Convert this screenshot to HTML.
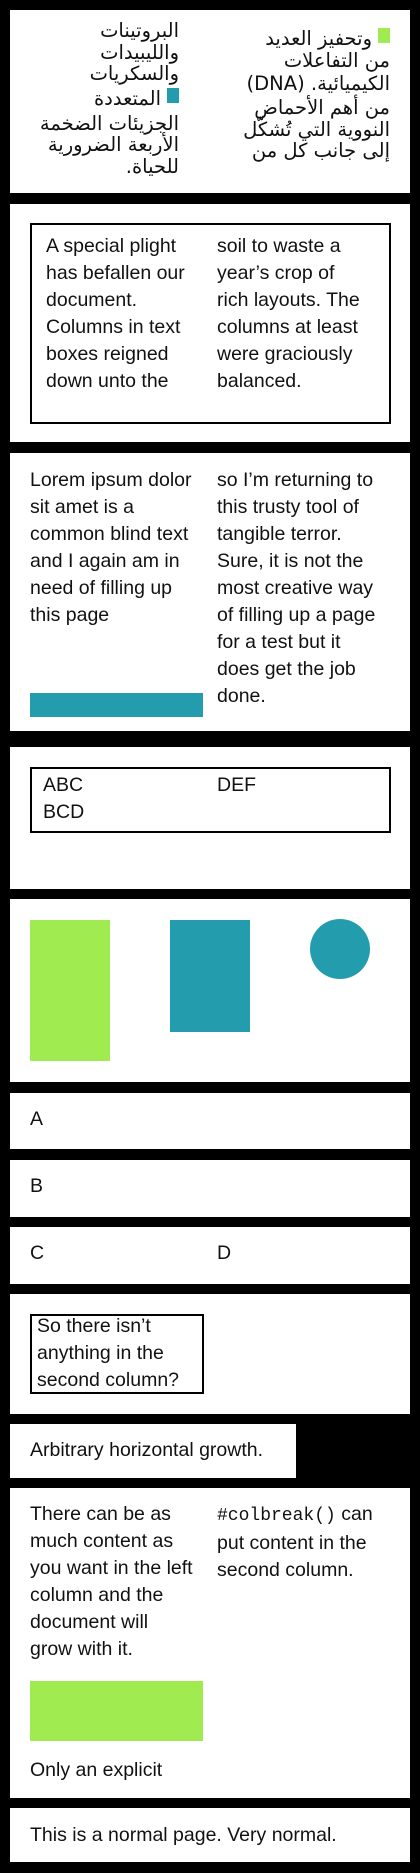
<!DOCTYPE html>
<html><head><meta charset="utf-8"><style>
*{margin:0;padding:0;box-sizing:border-box}
body{width:420px;height:1873px;background:#000;position:relative;overflow:hidden;font-family:"Liberation Sans","Noto Sans CJK SC",sans-serif;color:#111}
.p{position:absolute;left:10px;width:400px;background:#fff}
.a{position:absolute}
.t{font-size:19.5px;line-height:27px;white-space:nowrap}
.ar{font-family:"DejaVu Sans","Noto Sans CJK SC",sans-serif;font-size:19.5px;line-height:21.5px;direction:rtl;text-align:right;white-space:nowrap}
.g{background:#a0eb50}.c{background:#239dae}
</style></head><body>
<div class="p" style="top:10px;height:183px"></div>
<div class="a ar" style="right:30px;top:28px"><span class="g" style="display:inline-block;width:12px;height:15px;margin-left:6px;vertical-align:2px"></span>وتحفيز العديد<br>من التفاعلات<br><span style="line-height:26px">الكيميائية. (DNA)</span><br>من أهم الأحماض<br>النووية التي تُشكّل<br>إلى جانب كل من</div>
<div class="a ar" style="right:241px;top:20px">البروتينات<br>والليبيدات<br>والسكريات<br><span style="line-height:28px"><span class="c" style="display:inline-block;width:12px;height:15px;margin-left:6px;vertical-align:2px"></span>المتعددة</span><br>الجزيئات الضخمة<br>الأربعة الضرورية<br>للحياة.</div>

<div class="p" style="top:204px;height:238px"></div>
<div class="a" style="left:30px;top:223px;width:361px;height:201px;border:2px solid #000"></div>
<div class="a t" style="left:46px;top:233px">A special plight<br>has befallen our<br>document.<br>Columns in text<br>boxes reigned<br>down unto the</div>
<div class="a t" style="left:217px;top:233px">soil to waste a<br>year’s crop of<br>rich layouts. The<br>columns at least<br>were graciously<br>balanced.</div>

<div class="p" style="top:453px;height:278px"></div>
<div class="a t" style="left:30px;top:467px">Lorem ipsum dolor<br>sit amet is a<br>common blind text<br>and I again am in<br>need of filling up<br>this page</div>
<div class="a c" style="left:30px;top:693px;width:173px;height:24px"></div>
<div class="a t" style="left:217px;top:467px">so I’m returning to<br>this trusty tool of<br>tangible terror.<br>Sure, it is not the<br>most creative way<br>of filling up a page<br>for a test but it<br>does get the job<br>done.</div>

<div class="p" style="top:747px;height:142px"></div>
<div class="a" style="left:30px;top:767px;width:361px;height:66px;border:2px solid #000"></div>
<div class="a t" style="left:43px;top:772px">ABC<br>BCD</div>
<div class="a t" style="left:217px;top:772px">DEF</div>

<div class="p" style="top:899px;height:183px"></div>
<div class="a g" style="left:30px;top:920px;width:80px;height:141px"></div>
<div class="a c" style="left:170px;top:920px;width:80px;height:112px"></div>
<div class="a c" style="left:310px;top:919px;width:60px;height:60px;border-radius:50%"></div>

<div class="p" style="top:1093px;height:56px"></div>
<div class="a t" style="left:30px;top:1106px">A</div>
<div class="p" style="top:1160px;height:57px"></div>
<div class="a t" style="left:30px;top:1173px">B</div>
<div class="p" style="top:1227px;height:57px"></div>
<div class="a t" style="left:30px;top:1240px">C</div>
<div class="a t" style="left:217px;top:1240px">D</div>

<div class="p" style="top:1294px;height:120px"></div>
<div class="a" style="left:30px;top:1314px;width:174px;height:80px;border:2px solid #000"></div>
<div class="a t" style="left:37px;top:1313px">So there isn’t<br>anything in the<br>second column?</div>

<div class="a" style="left:10px;top:1424px;width:286px;height:54px;background:#fff"></div>
<div class="a t" style="left:30px;top:1437px">Arbitrary horizontal growth.</div>

<div class="p" style="top:1488px;height:310px"></div>
<div class="a t" style="left:30px;top:1501px">There can be as<br>much content as<br>you want in the left<br>column and the<br>document will<br>grow with it.</div>
<div class="a g" style="left:30px;top:1681px;width:173px;height:60px"></div>
<div class="a t" style="left:30px;top:1757px">Only an explicit</div>
<div class="a t" style="left:217px;top:1501px"><span style="font-family:'Liberation Mono',monospace;font-size:18px">#colbreak()</span> can<br>put content in the<br>second column.</div>

<div class="p" style="top:1808px;height:54px"></div>
<div class="a t" style="left:30px;top:1822px">This is a normal page. Very normal.</div>
</body></html>
